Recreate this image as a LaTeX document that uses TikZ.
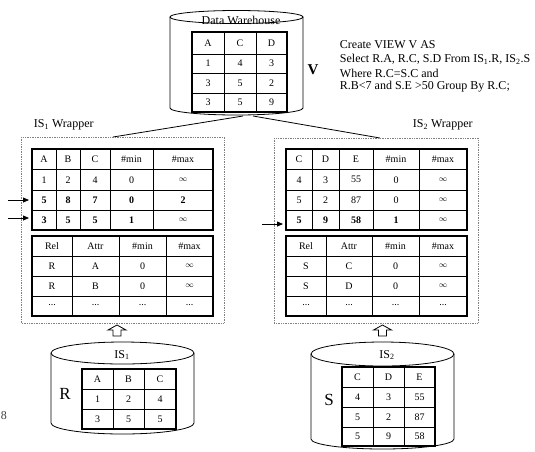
\documentclass[tikz,border=0pt]{standalone}
\usepackage{amssymb, amsmath}
\usepackage{fontspec}
\setmainfont{Liberation Serif}
\usepackage{tikz}
\usetikzlibrary{arrows.meta}

\newcommand{\unb}{{\fontsize{8}{8}\selectfont$\infty$}}

\tikzset{
  cell/.style={inner sep=0pt, font=\fontsize{10}{12}\selectfont},
  lbl/.style={inner sep=0.75pt, font=\fontsize{12}{14}\selectfont},
  tabframe/.style={line width=1.8pt},
  tabrule/.style={line width=0.6pt},
  wrapbox/.style={draw=gray, densely dotted, line width=0.7pt},
  can/.style={line width=0.8pt},
  feed/.style={-{Triangle[length=6pt,width=5pt]}, line width=0.8pt},
}

\begin{document}
\begin{tikzpicture}[x=1pt,y=1pt,yscale=-1,xscale=1]
\useasboundingbox (0,0) rectangle (535,451);

%Shape: Can [id:dw]
\draw [can] (170,17) -- (170,108) arc [start angle=180, end angle=0, x radius=66.5, y radius=7] -- (303,17) ;
\draw [can] (236.5,17) ellipse [x radius=66.5, y radius=6.5] ;
% Text Node
\draw (241,20) node (dwname) [lbl] {Data Warehouse};
%Table: view
\draw [tabrule] (224,32) -- (224,112) (256,32) -- (256,112) (192,54) -- (287,54) (192,73) -- (287,73) (192,93) -- (287,93) ;
\draw [tabframe] (192,32) rectangle (287,112) ;
\draw (208,43) node (v11) [cell] {A} (240,43) node (v12) [cell] {C} (271.5,43) node (v13) [cell] {D} ;
\draw (208,63.5) node (v21) [cell] {1} (240,63.5) node (v22) [cell] {4} (271.5,63.5) node (v23) [cell] {3} ;
\draw (208,83) node (v31) [cell] {3} (240,83) node (v32) [cell] {5} (271.5,83) node (v33) [cell] {2} ;
\draw (208,102.5) node (v41) [cell] {3} (240,102.5) node (v42) [cell] {5} (271.5,102.5) node (v43) [cell] {9} ;
% Text Node
\draw (313,70) node (vname) [inner sep=0.75pt, font=\fontsize{15}{17}\selectfont\bfseries] {V};
% Text Node
\draw (339,45) node (sql1) [lbl, anchor=west] {Create VIEW V AS};
\draw (339,59) node (sql2) [lbl, anchor=west] {Select R.A, R.C, S.D From IS\textsubscript{1}.R, IS\textsubscript{2}.S};
\draw (339,73) node (sql3) [lbl, anchor=west] {Where R.C=S.C and};
\draw (339,87) node (sql4) [lbl, anchor=west] {R.B<7 and S.E >50 Group By R.C;};

%Straight Lines [id:dw to wrappers]
\coordinate (dwfoot1) at (243,116) ;
\coordinate (dwfoot2) at (253,116) ;
\coordinate (wrap1top) at (113,137) ;
\coordinate (wrap2top) at (380,138) ;
\draw [line width=0.8pt] (dwfoot1) -- (wrap1top) ;
\draw [line width=0.8pt] (dwfoot2) -- (wrap2top) ;

% Text Node
\draw (33,125) node (wrap1name) [lbl, anchor=west] {IS\textsubscript{1} Wrapper};
\draw (412,125) node (wrap2name) [lbl, anchor=west] {IS\textsubscript{2} Wrapper};

%Shape: Rectangle [id:wrapper 1]
\draw [wrapbox] (21,137) rectangle (224,323) ;
%Table: answer R
\draw [tabrule] (56,149) -- (56,230) (80,149) -- (80,230) (110,149) -- (110,230) (153,149) -- (153,230) (32,169.5) -- (213,169.5) (32,190) -- (213,190) (32,210) -- (213,210) ;
\draw [tabframe] (32,149) rectangle (213,230) ;
\draw (44,159.25) node (lt11) [cell] {A} (68,159.25) node (lt12) [cell] {B} (95,159.25) node (lt13) [cell] {C} (131.5,159.25) node (lt14) [cell] {\#min} (183,159.25) node (lt15) [cell] {\#max} ;
\draw (44,179.75) node (lt21) [cell] {1} (68,179.75) node (lt22) [cell] {2} (95,179.75) node (lt23) [cell] {4} (131.5,179.75) node (lt24) [cell] {0} (183,179.75) node (lt25) [cell] {\unb} ;
\draw (44,200) node (lt31) [cell] {\bfseries 5} (68,200) node (lt32) [cell] {\bfseries 8} (95,200) node (lt33) [cell] {\bfseries 7} (131.5,200) node (lt34) [cell] {\bfseries 0} (183,200) node (lt35) [cell] {\bfseries 2} ;
\draw (44,220) node (lt41) [cell] {\bfseries 3} (68,220) node (lt42) [cell] {\bfseries 5} (95,220) node (lt43) [cell] {\bfseries 5} (131.5,220) node (lt44) [cell] {\bfseries 1} (183,220) node (lt45) [cell] {\unb} ;
%Table: catalog R
\draw [tabrule] (72,236) -- (72,316) (119,236) -- (119,316) (166,236) -- (166,316) (32,256) -- (213,256) (32,276) -- (213,276) (32,296) -- (213,296) ;
\draw [tabframe] (32,236) rectangle (213,316) ;
\draw (52,246) node (lb11) [cell] {Rel} (95.5,246) node (lb12) [cell] {Attr} (142.5,246) node (lb13) [cell] {\#min} (189.5,246) node (lb14) [cell] {\#max} ;
\draw (52,266) node (lb21) [cell] {R} (95.5,266) node (lb22) [cell] {A} (142.5,266) node (lb23) [cell] {0} (189.5,266) node (lb24) [cell] {\unb} ;
\draw (52,286) node (lb31) [cell] {R} (95.5,286) node (lb32) [cell] {B} (142.5,286) node (lb33) [cell] {0} (189.5,286) node (lb34) [cell] {\unb} ;
\draw (52,305) node (lb41) [cell] {...} (95.5,305) node (lb42) [cell] {...} (142.5,305) node (lb43) [cell] {...} (189.5,305) node (lb44) [cell] {...} ;

%Shape: Rectangle [id:wrapper 2]
\draw [wrapbox] (274,138) rectangle (478,323) ;
%Table: answer S
\draw [tabrule] (312,149) -- (312,230) (339,149) -- (339,230) (373,149) -- (373,230) (419,149) -- (419,230) (286,169.5) -- (467,169.5) (286,190) -- (467,190) (286,210) -- (467,210) ;
\draw [tabframe] (286,149) rectangle (467,230) ;
\draw (299,159.25) node (rt11) [cell] {C} (325.5,159.25) node (rt12) [cell] {D} (356,159.25) node (rt13) [cell] {E} (396,159.25) node (rt14) [cell] {\#min} (443,159.25) node (rt15) [cell] {\#max} ;
\draw (299,179.75) node (rt21) [cell] {4} (325.5,179.75) node (rt22) [cell] {3} (356,179.75) node (rt23) [cell] {55} (396,179.75) node (rt24) [cell] {0} (443,179.75) node (rt25) [cell] {\unb} ;
\draw (299,200) node (rt31) [cell] {5} (325.5,200) node (rt32) [cell] {2} (356,200) node (rt33) [cell] {87} (396,200) node (rt34) [cell] {0} (443,200) node (rt35) [cell] {\unb} ;
\draw (299,220) node (rt41) [cell] {\bfseries 5} (325.5,220) node (rt42) [cell] {\bfseries 9} (356,220) node (rt43) [cell] {\bfseries 58} (396,220) node (rt44) [cell] {\bfseries 1} (443,220) node (rt45) [cell] {\unb} ;
%Table: catalog S
\draw [tabrule] (326,236) -- (326,316) (372,236) -- (372,316) (419,236) -- (419,316) (286,256) -- (467,256) (286,276) -- (467,276) (286,296) -- (467,296) ;
\draw [tabframe] (286,236) rectangle (467,316) ;
\draw (306,246) node (rb11) [cell] {Rel} (349,246) node (rb12) [cell] {Attr} (395.5,246) node (rb13) [cell] {\#min} (443,246) node (rb14) [cell] {\#max} ;
\draw (306,266) node (rb21) [cell] {S} (349,266) node (rb22) [cell] {C} (395.5,266) node (rb23) [cell] {0} (443,266) node (rb24) [cell] {\unb} ;
\draw (306,286) node (rb31) [cell] {S} (349,286) node (rb32) [cell] {D} (395.5,286) node (rb33) [cell] {0} (443,286) node (rb34) [cell] {\unb} ;
\draw (306,305) node (rb41) [cell] {...} (349,305) node (rb42) [cell] {...} (395.5,305) node (rb43) [cell] {...} (443,305) node (rb44) [cell] {...} ;

%Straight Lines [id:inserted tuples]
\coordinate (in1) at (8,200) ;
\coordinate (in1tip) at (29,200) ;
\coordinate (in2) at (8,218) ;
\coordinate (in2tip) at (29,218) ;
\coordinate (in3) at (262,224) ;
\coordinate (in3tip) at (283,224) ;
\draw [feed] (in1) -- (in1tip) ;
\draw [feed] (in2) -- (in2tip) ;
\draw [feed] (in3) -- (in3tip) ;

%Shape: Up Arrow [id:feed 1]
\draw [line width=0.8pt] (117,325) -- (126,330) -- (121,330) -- (121,336) -- (113,336) -- (113,330) -- (108,330) -- cycle ;
%Shape: Up Arrow [id:feed 2]
\draw [line width=0.8pt] (382.5,325) -- (391.5,330) -- (386.5,330) -- (386.5,336) -- (378.5,336) -- (378.5,330) -- (373.5,330) -- cycle ;

%Shape: Can [id:is1]
\draw [can] (51,353) -- (51,423) arc [start angle=180, end angle=0, x radius=71.5, y radius=11] -- (194,353) ;
\draw [can] (122.5,353) ellipse [x radius=71.5, y radius=11] ;
\draw (122,355) node (is1name) [lbl] {IS\textsubscript{1}};
\draw (65,394) node (rname) [inner sep=0.75pt, font=\fontsize{17}{19}\selectfont] {R};
%Table: R
\draw [tabrule] (113,369) -- (113,429) (144,369) -- (144,429) (82,389) -- (176,389) (82,409) -- (176,409) ;
\draw [tabframe] (82,369) rectangle (176,429) ;
\draw (97.5,379) node (r11) [cell] {A} (128.5,379) node (r12) [cell] {B} (160,379) node (r13) [cell] {C} ;
\draw (97.5,399) node (r21) [cell] {1} (128.5,399) node (r22) [cell] {2} (160,399) node (r23) [cell] {4} ;
\draw (97.5,419) node (r31) [cell] {3} (128.5,419) node (r32) [cell] {5} (160,419) node (r33) [cell] {5} ;

%Shape: Can [id:is2]
\draw [can] (311,354) -- (311,439) arc [start angle=180, end angle=0, x radius=71.5, y radius=10] -- (454,354) ;
\draw [can] (382.5,354) ellipse [x radius=71.5, y radius=12] ;
\draw (387,355) node (is2name) [lbl] {IS\textsubscript{2}};
\draw (329,400) node (sname) [inner sep=0.75pt, font=\fontsize{17}{19}\selectfont] {S};
%Table: S
\draw [tabrule] (373,367) -- (373,446) (404,367) -- (404,446) (342,387) -- (435,387) (342,407) -- (435,407) (342,427) -- (435,427) ;
\draw [tabframe] (342,367) rectangle (435,446) ;
\draw (357.5,377) node (s11) [cell] {C} (388.5,377) node (s12) [cell] {D} (419.5,377) node (s13) [cell] {E} ;
\draw (357.5,397) node (s21) [cell] {4} (388.5,397) node (s22) [cell] {3} (419.5,397) node (s23) [cell] {55} ;
\draw (357.5,417) node (s31) [cell] {5} (388.5,417) node (s32) [cell] {2} (419.5,417) node (s33) [cell] {87} ;
\draw (357.5,436.5) node (s41) [cell] {5} (388.5,436.5) node (s42) [cell] {9} (419.5,436.5) node (s43) [cell] {58} ;

% Text Node
\draw (0,416) node (stray) [lbl, anchor=west, text=darkgray] {8};

\end{tikzpicture}
\end{document}
